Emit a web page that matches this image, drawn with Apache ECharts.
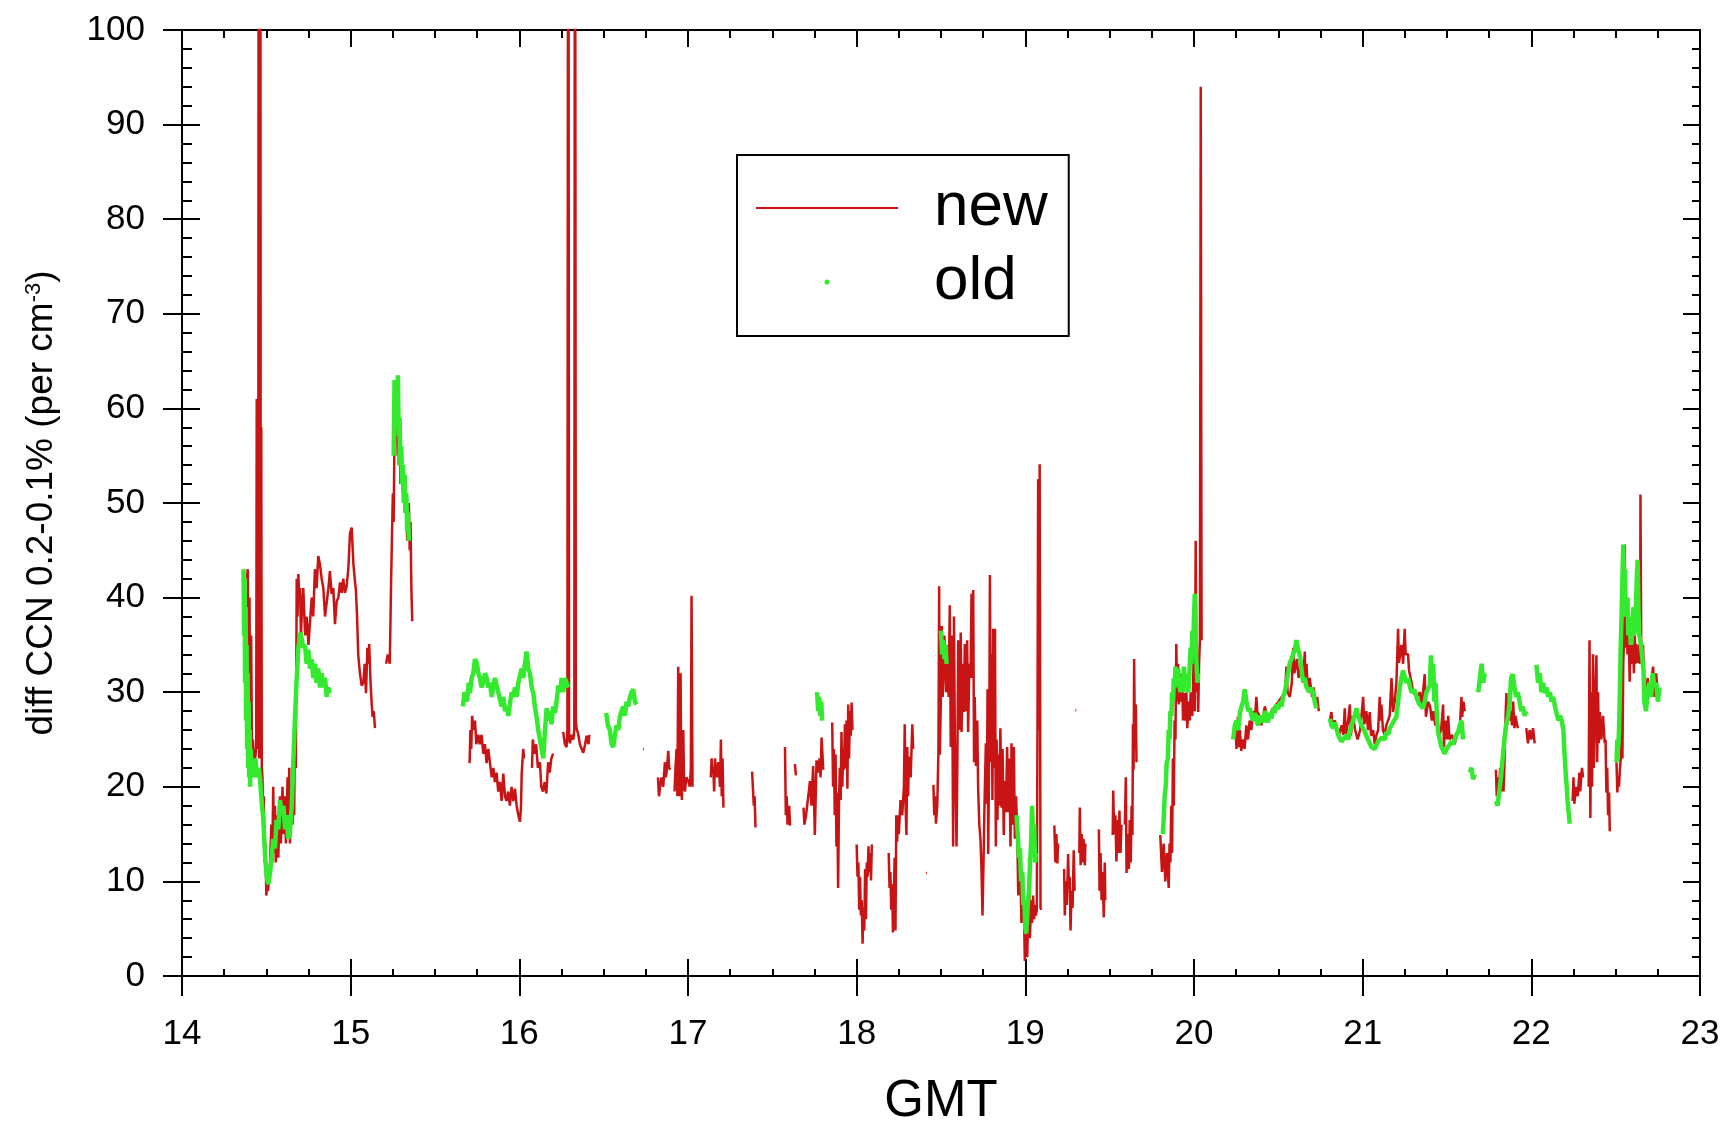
<!DOCTYPE html>
<html>
<head>
<meta charset="utf-8">
<title>diff CCN 0.2-0.1%</title>
<script src="https://cdn.jsdelivr.net/npm/echarts@6/dist/echarts.min.js"></script>
<style>
  html, body { margin: 0; padding: 0; background: #ffffff; }
  #chart { width: 1721px; height: 1126px; }
</style>
</head>
<body>
<div id="chart"></div>
<script>
// Axis ticks (hours GMT and concentration difference)
const xTicks = [14, 15, 16, 17, 18, 19, 20, 21, 22, 23];
const yTicks = [0, 10, 20, 30, 40, 50, 60, 70, 80, 90, 100];
const seriesNames = ['new', 'old'];

// "new" counter: [GMT hour, diff CCN]; null marks a data gap.
// Values above 100 run off the top of the plot.
const newData = [
  [14.385,42],[14.39,43],[14.395,30],[14.40,40],[14.405,25],[14.41,36],[14.415,23],[14.42,25],[14.43,22.5],[14.44,24],
  [14.443,61],[14.446,25],[14.449,60],[14.452,24],[14.455,150],[14.458,23],[14.461,61],[14.464,150],[14.467,24],[14.47,58],
  [14.473,22],[14.477,21],[14.48,18],[14.485,19],
  [14.49,12],[14.495,14],[14.50,8.5],[14.505,10],[14.51,9],[14.52,11],[14.53,16],[14.535,12],[14.541,20],[14.546,13],
  [14.551,18],[14.556,12],[14.566,17],[14.571,12.5],[14.581,19],[14.586,14],[14.596,20],[14.601,15],[14.611,19],[14.616,14],
  [14.626,21],[14.63,16],[14.636,22],[14.64,14],[14.65,19],[14.655,16],[14.66,20],[14.665,17],[14.67,27],[14.675,22],
  [14.68,42],[14.685,38],[14.69,42.5],[14.695,40],[14.70,41],[14.705,36],[14.712,39],[14.719,41],[14.73,36],[14.739,38],
  [14.75,35],[14.759,37.5],[14.769,40],[14.778,38],[14.788,43],[14.798,41],[14.808,44.4],[14.818,43.5],[14.828,42],[14.838,41],
  [14.848,38],[14.858,39.5],[14.868,41],[14.877,42.8],[14.887,40.4],[14.897,41],[14.907,37.2],[14.917,39.6],[14.927,40],[14.937,41.6],
  [14.947,40.5],[14.956,42],[14.966,40.5],[14.976,41.2],[14.986,43],[14.996,46.8],[15.006,47.4],[15.016,43.6],[15.024,42],[15.031,40.8],
  [15.038,38],[15.045,33.9],[15.055,32],[15.065,30.7],[15.075,31],[15.083,33],[15.091,29.9],[15.099,34.7],[15.105,33],[15.11,35.1],
  [15.118,31],[15.124,29],[15.13,27.4],[15.137,28],[15.144,26.2],
  [15.18,null],
  [15.21,33],[15.22,34],[15.232,33],[15.24,42],[15.25,51],[15.255,48],[15.26,58],[15.265,55],[15.27,61],[15.275,57],
  [15.28,60],[15.285,54],[15.29,58],[15.295,52],[15.30,55],[15.31,51],[15.315,53],[15.32,49],[15.33,51],[15.335,46],
  [15.345,50],[15.35,45],[15.355,48],[15.36,41],[15.365,37.5],
  [15.5,null],
  [15.705,22.5],[15.71,26],[15.715,24],[15.72,27.5],[15.73,26],[15.737,27],[15.745,24.5],[15.757,25.5],[15.765,24.5],[15.776,25.5],
  [15.786,23.5],[15.796,24.5],[15.806,22.5],[15.816,24],[15.826,22.5],[15.836,21],[15.846,22],[15.855,20.5],[15.865,21.5],[15.875,19.5],
  [15.885,20.5],[15.895,18.5],[15.905,21.4],[15.915,19],[15.924,18.5],[15.934,19.5],[15.944,18],[15.954,20],[15.964,18.5],[15.974,19.8],
  [15.984,18],[15.994,17],[16.004,16.3],[16.01,18],[16.014,21.4],[16.023,24],[16.028,23],
  [16.05,null],
  [16.075,22],[16.08,25],[16.09,23.5],[16.10,24.5],[16.11,22],[16.122,22.6],[16.13,20],[16.14,19.5],[16.15,20.5],[16.16,19.3],
  [16.171,22.6],[16.18,21.5],[16.19,23],[16.20,23.5],
  [16.23,null],
  [16.26,25.8],[16.27,24.5],[16.28,24.2],[16.285,26],[16.29,150],[16.295,25],[16.30,24.6],[16.31,25.5],[16.32,25],[16.326,26],
  [16.33,150],[16.335,27],[16.339,26.2],[16.35,25.5],[16.359,24.5],[16.37,24],[16.379,23.6],[16.39,24.5],[16.399,25.4],[16.41,24.5],
  [16.415,25.5],
  [16.6,null],
  [16.733,24],[16.738,24],
  [16.78,null],
  [16.822,21],[16.828,19],[16.834,20],[16.843,21],[16.853,20],[16.863,22.6],[16.868,21],[16.873,21.5],[16.883,23.8],[16.888,22],
  [16.895,21.8],
  [16.91,null],
  [16.92,19.5],[16.926,22],[16.932,24],[16.937,19],[16.942,32.7],[16.948,19],[16.952,30],[16.956,32],[16.96,20],[16.964,18.6],
  [16.968,24],[16.972,26],[16.977,20],[16.982,19.5],[16.99,21],[17.002,20.6],[17.011,20],[17.017,22],[17.021,40.2],[17.027,20],
  [17.08,null],
  [17.135,21],[17.14,23],[17.145,21.5],[17.15,22],[17.155,19.5],[17.16,23],[17.17,21],[17.18,22.6],[17.19,20],[17.195,25],
  [17.20,19],[17.205,23],[17.21,17.8],
  [17.3,null],
  [17.38,21.6],[17.39,18],[17.395,19],[17.40,15.7],
  [17.5,null],
  [17.575,24.2],[17.58,17],[17.585,19],[17.59,16],[17.60,18],[17.605,15.9],
  [17.62,null],
  [17.634,22.4],[17.64,21.2],
  [17.66,null],
  [17.685,17.8],[17.69,16],[17.70,17],[17.713,19],[17.723,20.6],[17.732,18],[17.742,22.2],[17.752,14.9],[17.762,22.8],[17.772,21.5],
  [17.78,23],[17.786,21],[17.792,25.2],[17.802,21.8],
  [17.83,null],
  [17.855,26.8],[17.86,20],[17.865,24],[17.87,17],[17.875,23.4],[17.88,13.7],[17.885,19.4],[17.89,9.3],[17.895,18],[17.90,22],
  [17.905,18.6],[17.91,25.8],[17.915,20],[17.92,24],[17.925,21.8],[17.93,26.6],[17.935,22],[17.94,27],[17.945,19.8],[17.95,28.7],
  [17.955,23],[17.96,28],[17.965,25.4],[17.97,28.9],[17.975,26],
  [17.99,null],
  [18.0,13.9],[18.005,10.5],[18.01,12],[18.015,7],[18.02,10.5],[18.025,6.4],[18.03,8],[18.035,3.4],[18.04,7.2],[18.045,4.8],
  [18.05,11.3],[18.055,6],[18.06,12],[18.065,10.5],[18.07,13.7],[18.075,11],[18.08,13],[18.085,10.1],[18.09,13.9],
  [18.14,null],
  [18.19,13],[18.195,9.3],[18.20,11],[18.205,7],[18.21,9.7],[18.215,4.6],[18.22,8],[18.225,12.5],[18.23,4.8],[18.235,17],
  [18.24,14.2],[18.245,17],[18.25,15],[18.26,18.6],[18.27,17],[18.28,20],[18.285,26.6],[18.29,18],[18.295,14.9],[18.30,24.2],
  [18.305,19],[18.31,23.2],[18.32,21],[18.33,26.6],[18.335,24],
  [18.38,null],
  [18.412,10.9],[18.417,10.9],
  [18.44,null],
  [18.455,20.2],[18.46,17],[18.465,19],[18.47,16.1],[18.478,18],[18.485,24],[18.489,41.2],[18.493,23.4],[18.50,30],[18.505,37],
  [18.51,29.5],[18.52,36],[18.53,30],[18.54,35],[18.545,29.5],[18.552,39.2],[18.558,24.2],[18.565,36],[18.572,13.7],[18.577,38],
  [18.582,25],[18.588,18.6],[18.592,13.7],[18.597,22.6],[18.602,35.5],[18.61,26],[18.617,36.3],[18.622,25.8],[18.63,33],[18.636,27.9],
  [18.641,35.1],[18.648,28],[18.655,35.5],[18.661,25.8],[18.668,33],[18.675,31.5],[18.681,40.4],[18.686,31.5],[18.691,40.8],[18.696,22.6],
  [18.70,29.5],[18.707,22.2],[18.715,27],[18.72,20],[18.727,16],[18.734,14.5],[18.74,11.3],[18.746,6.4],[18.752,12],[18.758,18.2],
  [18.766,24.6],[18.772,18.2],[18.776,30.3],[18.78,12.9],[18.786,25],[18.79,42.4],[18.795,22.6],[18.80,34],[18.805,18.6],[18.809,36.7],
  [18.815,22],[18.82,36.7],[18.825,13.7],[18.83,25],[18.835,16.5],[18.839,23.4],[18.845,18],[18.852,26.2],[18.859,17.8],[18.865,24],
  [18.872,14.9],[18.878,20.6],[18.885,17.3],[18.892,24.2],[18.898,17.3],[18.905,23],[18.912,13.7],[18.918,24.6],[18.925,16],[18.932,24.2],
  [18.938,14.5],[18.945,19],[18.952,15.3],[18.958,8.5],[18.965,13],[18.97,11.3],[18.977,5.6],[18.984,9],[18.99,8.5],[18.997,1.6],
  [19.004,4.4],[19.011,2],[19.018,7],[19.022,10.5],[19.027,4],[19.035,8],[19.04,5.6],[19.046,8.5],[19.052,6],[19.058,7.5],
  [19.062,6.4],[19.068,7],[19.072,26.2],[19.076,52.5],[19.08,26],[19.085,54.1],[19.09,7.2],[19.095,7],
  [19.13,null],
  [19.172,15.9],[19.178,12],[19.184,15],[19.19,11.9],[19.194,14],
  [19.21,null],
  [19.23,11.3],[19.234,6.4],[19.24,10],[19.246,7.5],[19.254,12.9],[19.258,9.3],[19.263,10.5],[19.268,4.8],[19.274,9],[19.28,7.2],
  [19.287,13.3],[19.292,9],
  [19.295,null],
  [19.297,28.1],[19.302,28.1],
  [19.31,null],
  [19.32,13],[19.323,17.8],[19.328,11.7],[19.334,15],[19.339,12],[19.345,14.5],[19.353,11.7],[19.356,14],
  [19.4,null],
  [19.436,15.5],[19.44,9],[19.446,13],[19.452,8],[19.458,11],[19.465,6.2],[19.471,12],[19.474,8],
  [19.5,null],
  [19.518,14.9],[19.521,19.6],[19.527,15],[19.534,17],[19.54,12.1],[19.546,16.5],[19.552,13],[19.558,17.5],[19.564,13],[19.57,16],
  [19.58,null],
  [19.59,16],[19.596,21],[19.60,10.9],[19.608,15],[19.614,11.3],[19.619,16.5],[19.625,12],[19.63,18],[19.635,14.9],[19.638,26.6],
  [19.642,21.8],[19.645,33.5],[19.65,24],[19.655,28.7],[19.659,22.6],
  [19.72,null],
  [19.80,14.9],[19.81,11],[19.82,14],[19.83,10],[19.84,13],[19.85,9.3],[19.855,14],[19.86,12],[19.865,18],[19.87,13],
  [19.875,23],[19.88,18],[19.885,27],[19.89,25],[19.895,35.1],[19.90,29],[19.905,33],[19.91,28.7],[19.92,32],[19.925,29],
  [19.93,31],[19.935,27],[19.94,29.9],[19.95,27],[19.955,30],[19.96,26.2],[19.97,29],[19.975,27],[19.98,30],[19.99,27.5],
  [20.0,35],[20.005,28],[20.01,46],[20.015,30],[20.02,34],[20.025,27.9],[20.03,33],[20.035,35.5],[20.04,94],[20.045,35.5],
  [20.1,null],
  [20.245,27],[20.252,24],[20.26,27.4],[20.265,24.2],[20.272,26],[20.28,23.8],[20.29,25],[20.30,24],[20.31,26.5],[20.32,25],
  [20.33,27],[20.34,26],[20.35,28],[20.36,27],[20.37,29.5],[20.375,27.9],[20.39,27.5],[20.40,26.5],[20.42,28.5],[20.44,27],
  [20.46,28],[20.48,28.5],[20.50,29],[20.52,29.5],[20.54,30],[20.548,32.7],[20.555,30],[20.568,29.5],[20.58,31],[20.588,34.7],
  [20.595,32],[20.61,33.5],[20.62,31.5],[20.635,33],[20.645,31],[20.657,34.3],[20.66,31.5],[20.667,33],[20.675,30],[20.686,31.5],
  [20.70,29.5],[20.71,30.5],[20.72,28.5],[20.73,29.5],[20.74,28],
  [20.77,null],
  [20.805,27],[20.815,27.9],[20.82,26.6],[20.835,27],[20.85,26],[20.86,25.5],[20.875,26.5],[20.885,25.5],[20.894,28.3],[20.90,25.4],
  [20.914,27],[20.924,28.7],[20.93,25.4],[20.943,27.5],[20.955,26],[20.97,25],[20.985,26],[21.003,29.5],[21.01,26.6],[21.022,28],
  [21.032,26],[21.042,27.9],[21.05,25.4],[21.062,26],[21.072,24.5],[21.082,25.5],[21.092,26],[21.101,29.5],[21.106,27],[21.111,28.7],
  [21.12,26],[21.13,25.5],[21.14,26.5],[21.15,27],[21.16,27.5],[21.171,31.5],[21.18,27.9],[21.19,29],[21.20,31],[21.21,36.7],
  [21.215,33.1],[21.23,35],[21.24,33],[21.249,36.7],[21.255,34],[21.269,34],[21.275,32.3],[21.29,31],[21.30,30],[21.32,29.5],
  [21.34,30],[21.35,28.5],[21.368,31.9],[21.375,27.4],[21.388,29],[21.40,28.5],[21.41,27],[21.42,28],[21.43,26.5],[21.44,27],
  [21.455,25.5],[21.465,26],[21.477,28.7],[21.482,24.2],[21.49,27],[21.50,25],[21.507,27.5],[21.515,25],[21.53,25.5],[21.545,24.5],
  [21.56,25.5],[21.575,26],[21.586,29.5],[21.59,27.4],[21.598,29],[21.605,28],
  [21.7,null],
  [21.79,21.8],[21.795,19],[21.80,21],[21.81,20],[21.815,22],[21.82,19.5],[21.83,21],[21.835,19.5],[21.84,22],[21.845,26],
  [21.852,29.9],[21.858,26.6],[21.865,28.5],[21.872,27],[21.88,28],[21.885,26.5],[21.892,29],[21.90,26.2],[21.905,27.5],[21.912,27.5],
  [21.92,26.2],
  [21.95,null],
  [21.97,26.2],[21.98,24.6],[21.99,26],[22.0,25],[22.01,26.2],[22.02,24.6],
  [22.1,null],
  [22.245,18.5],[22.25,21],[22.255,18.2],[22.265,20],[22.275,19],[22.285,21.5],[22.29,19.5],[22.30,22],[22.307,21],
  [22.32,null],
  [22.34,20],[22.345,35.5],[22.35,16.7],[22.355,30],[22.36,20],[22.366,34],[22.37,22],[22.38,30],[22.386,33.9],[22.39,22.6],
  [22.396,30],[22.40,24.6],[22.406,27.9],[22.415,25],[22.425,27.5],[22.435,24.6],[22.44,25],[22.445,19.4],[22.45,22],[22.455,17],
  [22.461,19.4],[22.465,15.3],
  [22.48,null],
  [22.505,22.6],[22.51,19.4],[22.515,21],[22.52,20],[22.524,21.5],[22.53,23],[22.534,39.6],[22.54,23],[22.545,33],[22.55,36],
  [22.554,45.6],[22.558,34.7],[22.564,40],[22.57,34],[22.577,37],[22.583,31.1],[22.59,37.1],[22.597,33],[22.603,35],[22.608,32],
  [22.613,36],[22.618,33],[22.623,35.1],[22.63,33.1],[22.64,35],[22.645,33],[22.647,50.9],[22.652,33.1],[22.662,35],[22.67,31],
  [22.68,30],[22.69,31.5],[22.70,29.5],[22.71,31],[22.722,32.7],[22.73,29.5],[22.74,32],[22.751,29.5]
];

// "old" counter: [GMT hour, diff CCN]; null marks a data gap.
const oldData = [
  [14.365,43],[14.368,36],[14.371,42],[14.374,31],[14.377,39],[14.38,27],[14.383,35],[14.386,24],[14.389,32],[14.392,22],
  [14.395,29],[14.398,21],[14.401,26],[14.404,20],[14.408,24],[14.412,21],[14.416,23],[14.42,21],[14.425,22],[14.435,23],
  [14.445,21],[14.455,22],[14.462,21],[14.472,18.5],[14.482,16.5],[14.492,12.9],[14.502,10.5],[14.512,9.7],[14.522,10.9],[14.531,12.5],
  [14.541,14.5],[14.551,13.5],[14.561,16.5],[14.571,15.5],[14.581,18.6],[14.591,17],[14.601,18],[14.611,15.5],[14.62,17],[14.63,14.5],
  [14.64,15.3],[14.65,17.8],[14.655,20],[14.66,22.6],[14.665,25],[14.67,27.4],[14.675,29.5],[14.68,31.5],[14.685,33],[14.69,34.7],
  [14.696,35.5],[14.703,36.3],[14.711,35.5],[14.719,34.7],[14.729,35],[14.739,33],[14.749,34.5],[14.759,32.5],[14.769,33.5],[14.778,31.5],
  [14.788,33],[14.798,31],[14.808,32.5],[14.818,30.5],[14.828,32],[14.838,30.5],[14.848,31.5],[14.858,29.5],[14.868,30.5],[14.875,29.9],
  [15.0,null],
  [15.255,55],[15.26,63],[15.265,58],[15.27,62],[15.275,60],[15.28,63.5],[15.285,57],[15.29,59],[15.295,54],[15.30,56],
  [15.305,52],[15.31,54],[15.315,50],[15.32,53],[15.325,49],[15.33,51],[15.335,47],[15.34,49],[15.345,46],
  [15.5,null],
  [15.665,28.5],[15.675,30],[15.69,29],[15.70,31],[15.707,29.9],[15.717,31.5],[15.727,32],[15.737,33.5],[15.747,33.1],[15.757,32],
  [15.766,31.5],[15.776,30.5],[15.786,31],[15.796,32],[15.806,31.5],[15.816,30.5],[15.826,31],[15.836,29.5],[15.845,30.5],[15.855,31.5],
  [15.865,31.5],[15.875,30],[15.885,30],[15.895,28.5],[15.905,29.5],[15.915,28],[15.925,28.5],[15.935,27.5],[15.944,28.7],[15.954,30],
  [15.964,29.5],[15.974,30.5],[15.984,29.5],[15.994,31],[16.004,31],[16.014,32.5],[16.023,31.5],[16.033,33],[16.043,34.3],[16.053,32.5],
  [16.063,32],[16.073,30.5],[16.083,29.9],[16.092,28.5],[16.102,27.4],[16.112,26],[16.122,25],[16.132,24],[16.142,23],[16.152,26],
  [16.162,28.3],[16.172,27],[16.182,28],[16.191,26.6],[16.201,28.5],[16.211,27.8],[16.221,29],[16.231,30.7],[16.241,30],[16.251,31.5],
  [16.26,30],[16.27,31.5],[16.28,31],[16.29,30.5],
  [16.4,null],
  [16.515,27.8],[16.525,26.5],[16.537,26],[16.547,24.5],[16.557,24.2],[16.567,25.5],[16.577,26.5],[16.587,26],[16.596,27.4],[16.606,28],
  [16.616,28.5],[16.626,27.5],[16.636,29],[16.646,28.5],[16.656,29.5],[16.665,30],[16.675,30.3],[16.685,29],[16.695,28.7],
  [17.0,null],
  [17.765,30],[17.772,28],[17.778,29.5],[17.785,27.5],[17.79,29],[17.795,27],
  [18.0,null],
  [18.50,36.5],[18.507,34],[18.513,35.5],[18.52,33.5],[18.527,35],[18.533,33],
  [18.7,null],
  [18.948,17],[18.955,15],[18.962,12.5],[18.968,13.5],[18.975,10],[18.982,11],[18.988,7.5],[18.994,8],[19.0,5],[19.005,4.5],
  [19.01,6],[19.016,8],[19.022,9],[19.028,12],[19.034,14],[19.04,18],[19.046,15],[19.052,16],[19.058,12],[19.062,13],
  [19.5,null],
  [19.815,15],[19.82,16.5],[19.826,19],[19.832,20],[19.838,22.5],[19.845,23],[19.85,26],[19.855,25],[19.86,28],[19.866,27.5],
  [19.87,30],[19.876,29],[19.88,31.5],[19.886,30.5],[19.89,32.7],[19.896,31],[19.90,31],[19.905,32.5],[19.91,32.5],[19.915,30.5],
  [19.92,30],[19.925,31.5],[19.93,31.5],[19.935,30],[19.94,32.7],[19.945,31],[19.95,30.5],[19.955,32],[19.96,32],[19.965,30],
  [19.97,31],[19.975,33],[19.98,34.7],[19.985,33],[19.99,36.5],[19.995,35],[20.0,38],[20.005,40.4],[20.01,35],[20.015,33],
  [20.02,31],[20.025,32],
  [20.1,null],
  [20.232,25],[20.242,26.5],[20.252,27],[20.262,26],[20.272,27.8],[20.282,28.5],[20.291,29],[20.301,30.3],[20.311,29],[20.321,28],
  [20.331,28.3],[20.341,27.5],[20.35,27],[20.36,27.8],[20.37,27],[20.38,26.5],[20.39,27.5],[20.40,27.4],[20.41,26.8],[20.42,28],
  [20.429,27.5],[20.439,26.8],[20.449,27.8],[20.459,27.2],[20.469,28.3],[20.479,27.8],[20.489,28.7],[20.499,28.2],[20.509,29],[20.519,28.5],
  [20.528,29.5],[20.538,30],[20.548,31],[20.558,32],[20.568,33.1],[20.578,33.5],[20.588,34],[20.598,34.5],[20.607,35.5],[20.617,34.5],
  [20.627,33.9],[20.637,32.5],[20.647,31.1],[20.657,31.5],[20.667,30.5],[20.677,30.7],[20.687,30],[20.697,30.5],[20.706,29.9],[20.716,29],
  [20.726,28.3],
  [20.76,null],
  [20.805,27.2],[20.815,26.5],[20.825,26.2],[20.835,26.8],[20.844,26.2],[20.854,25.5],[20.864,25.5],[20.874,24.8],[20.884,24.6],[20.894,25.2],
  [20.904,25.5],[20.914,25],[20.924,25.8],[20.934,26.5],[20.943,27],[20.953,27.5],[20.963,28.3],[20.973,27.5],[20.983,27],[20.993,26.5],
  [21.003,26.6],[21.013,25.8],[21.022,25.4],[21.032,25],[21.042,24.6],[21.052,24.2],[21.062,24.4],[21.072,24],[21.082,24.4],[21.092,24.8],
  [21.101,24.8],[21.111,25.2],[21.121,25.4],[21.131,25],[21.141,25.8],[21.151,25.5],[21.161,26.2],[21.171,26.5],[21.18,26.8],[21.19,27],
  [21.20,27.4],[21.21,29],[21.22,30.5],[21.23,31.5],[21.24,32.3],[21.25,31.5],[21.259,31],[21.269,31.5],[21.279,30.7],[21.289,30],
  [21.299,29.9],[21.309,30.2],[21.319,29.5],[21.329,29],[21.338,28.7],[21.348,28.8],[21.358,28.3],[21.368,29],[21.378,30],[21.388,30.2],
  [21.398,30.7],[21.405,33.9],[21.412,31],[21.418,33],[21.425,29],[21.432,31],[21.437,28.7],[21.442,27],[21.447,25.8],[21.457,25],
  [21.467,24.2],[21.477,24],[21.487,23.5],[21.497,24],[21.507,24.2],[21.517,24.5],[21.526,24.8],[21.536,24.5],[21.546,25],[21.556,25.5],
  [21.566,25.8],[21.576,26.5],[21.586,27],[21.595,25],
  [21.62,null],
  [21.635,21.5],[21.645,22],[21.655,20.8],[21.665,21.3],
  [21.675,null],
  [21.685,30],[21.695,31.5],[21.705,33],[21.715,31],[21.724,32],
  [21.75,null],
  [21.79,18.5],[21.80,18],[21.81,19.5],[21.82,21],[21.83,23],[21.84,25],[21.85,26.5],[21.862,27.4],[21.872,29],[21.88,31.5],
  [21.89,31.9],[21.90,30.5],[21.91,29.5],[21.92,30],[21.93,29],[21.94,28],[21.95,28.5],[21.96,27.5],[21.97,28],
  [22.0,null],
  [22.03,32.9],[22.04,31],[22.05,32],[22.06,30],[22.07,31],[22.08,29.9],[22.09,30.5],[22.10,29.5],[22.11,30],[22.12,29],
  [22.13,29.5],[22.14,28.5],[22.15,28.5],[22.16,27],[22.17,27.5],[22.18,27],[22.19,26],[22.195,24],[22.20,22.6],[22.205,21],
  [22.21,20],[22.215,18.5],[22.22,17.5],[22.228,16.1],
  [22.4,null],
  [22.505,22.6],[22.51,25],[22.515,24],[22.52,26],[22.525,30],[22.53,35],[22.535,38],[22.54,42],[22.545,45.6],[22.55,41],
  [22.555,43],[22.56,38],[22.57,40],[22.575,36],[22.58,38],[22.59,35],[22.60,37],[22.605,39],[22.61,36],[22.62,38.5],
  [22.625,42],[22.63,44],[22.635,39],[22.64,36],[22.65,35],[22.665,32.3],[22.67,29],[22.68,28],[22.69,30],[22.70,31],
  [22.71,29.5],[22.72,32],[22.73,30.5],[22.74,31],[22.75,29],[22.76,30.5]
];

const FONT = '"Liberation Sans", Arial, Helvetica, sans-serif';
const BLACK = '#000000';
const RED = '#c81414';
const GREEN = '#33ea2e';

const xRange = { min: xTicks[0], max: xTicks[xTicks.length - 1], interval: xTicks[1] - xTicks[0] };
const yRange = { min: yTicks[0], max: yTicks[yTicks.length - 1], interval: yTicks[1] - yTicks[0] };
const line = { color: BLACK, width: 2 };

// Frame axes: outward/inward major ticks and inward minor ticks on all four sides
function frameX(position, opts) {
  return Object.assign({
    type: 'value', position, ...xRange,
    axisLine: { show: true, onZero: false, lineStyle: line },
    axisTick: { show: true, inside: true, length: 17, lineStyle: line },
    minorTick: { show: false },
    axisLabel: { show: false },
    splitLine: { show: false },
    minorSplitLine: { show: false }
  }, opts);
}
function frameY(position, opts) {
  return Object.assign({
    type: 'value', position, ...yRange,
    axisLine: { show: true, onZero: false, lineStyle: line },
    axisTick: { show: true, inside: true, length: 17, lineStyle: line },
    minorTick: { show: false },
    axisLabel: { show: false },
    splitLine: { show: false },
    minorSplitLine: { show: false }
  }, opts);
}

const chart = echarts.init(document.getElementById('chart'), null, { renderer: 'canvas' });

chart.setOption({
  animation: false,
  backgroundColor: '#ffffff',
  grid: { left: 182, right: 21, top: 30, bottom: 150, containLabel: false, outerBoundsMode: 'none' },
  xAxis: [
    frameX('bottom', {
      axisTick: { show: true, inside: false, length: 20, lineStyle: line },
      axisLabel: { show: true, margin: 41, fontSize: 35, fontFamily: FONT, color: BLACK },
      name: 'GMT', nameLocation: 'middle', nameGap: 100,
      nameTextStyle: { fontSize: 51, fontFamily: FONT, color: BLACK }
    }),
    frameX('bottom', {
      minorTick: { show: true, splitNumber: 4, length: 7, lineStyle: line }
    }),
    frameX('top', {
      minorTick: { show: true, splitNumber: 4, length: 8, lineStyle: line }
    })
  ],
  yAxis: [
    frameY('left', {
      axisTick: { show: true, inside: false, length: 19, lineStyle: line },
      axisLabel: { show: true, margin: 37, fontSize: 35, fontFamily: FONT, color: BLACK },
      name: 'diff CCN 0.2-0.1% (per cm{sup|-3})',
      nameLocation: 'middle', nameRotate: 90, nameGap: 122,
      nameTextStyle: {
        fontSize: 37, fontFamily: FONT, color: BLACK,
        rich: { sup: { fontSize: 22, fontFamily: FONT, color: BLACK, verticalAlign: 'top' } }
      }
    }),
    frameY('left', {
      axisTick: { show: true, inside: true, length: 18, lineStyle: line },
      minorTick: { show: true, splitNumber: 5, length: 10, lineStyle: line }
    }),
    frameY('right', {
      minorTick: { show: true, splitNumber: 5, length: 8, lineStyle: line }
    })
  ],
  legend: {
    orient: 'vertical',
    left: 737, top: 155,
    padding: [22, 21, 23, 18],
    itemGap: 12,
    itemWidth: 142, itemHeight: 5,
    borderColor: BLACK, borderWidth: 2,
    backgroundColor: '#ffffff',
    selectedMode: false,
    textStyle: { fontSize: 62, fontFamily: FONT, color: BLACK, padding: [0, 0, 0, 31] },
    data: [
      { name: seriesNames[0], itemStyle: { opacity: 0 }, lineStyle: { width: 2, opacity: 1 } },
      { name: seriesNames[1], icon: 'circle' }
    ]
  },
  series: [
    {
      name: seriesNames[0], type: 'line', xAxisIndex: 0, yAxisIndex: 0,
      data: newData, symbol: 'none', showSymbol: false, connectNulls: false, clip: true,
      lineStyle: { color: RED, width: 2.5 }, itemStyle: { color: RED }, z: 2
    },
    {
      name: seriesNames[1], type: 'line', xAxisIndex: 0, yAxisIndex: 0,
      data: oldData, symbol: 'none', showSymbol: false, connectNulls: false, clip: true,
      lineStyle: { color: GREEN, width: 4.5 }, itemStyle: { color: GREEN }, z: 3
    }
  ]
});
</script>
</body>
</html>
